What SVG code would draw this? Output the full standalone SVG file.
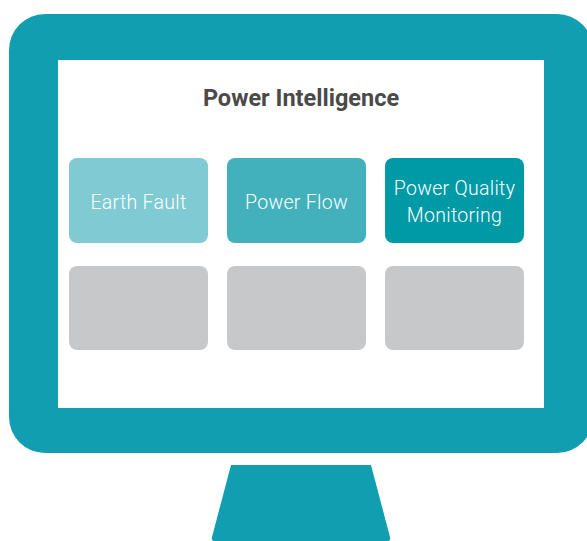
<svg xmlns="http://www.w3.org/2000/svg" width="587" height="541" viewBox="0 0 587 541">
<style>
.frame{fill:#119EB0}
.box{stroke:none}
.lbl{font-family:Roboto,"Liberation Sans",sans-serif;font-weight:300;font-size:19.5px;letter-spacing:0.3px;fill:#ffffff;text-anchor:middle}
.title{font-family:Roboto,"Liberation Sans",sans-serif;font-weight:700;font-size:23.5px;fill:#4a4a4a;text-anchor:middle}
</style>
<rect width="587" height="541" fill="#ffffff"/>
<g id="monitor">
<rect class="frame" x="9" y="14" width="584" height="439" rx="36" ry="36"/>
<rect x="58" y="60" width="486" height="348" fill="#ffffff"/>
<path class="frame" d="M231,465 L371,465 L390,537 Q391,541 387,541 L215,541 Q211,541 212,537 Z"/>
</g>
<text class="title" x="301" y="106">Power Intelligence</text>
<g id="earth-fault">
<rect class="box" x="69" y="158" width="139" height="85" rx="8" fill="#80CBD3"/>
<text class="lbl" x="138.5" y="209">Earth Fault</text>
</g>
<g id="power-flow">
<rect class="box" x="227" y="158" width="139" height="85" rx="8" fill="#42B1BC"/>
<text class="lbl" x="296.5" y="209">Power Flow</text>
</g>
<g id="power-quality">
<rect class="box" x="385" y="158" width="139" height="85" rx="8" fill="#0099A6"/>
<text class="lbl" x="454.5" y="195">Power Quality</text>
<text class="lbl" x="454.5" y="222">Monitoring</text>
</g>
<g id="empty-1"><rect class="box" x="69" y="266" width="139" height="84" rx="8" fill="#C7C8CA"/></g>
<g id="empty-2"><rect class="box" x="227" y="266" width="139" height="84" rx="8" fill="#C7C8CA"/></g>
<g id="empty-3"><rect class="box" x="385" y="266" width="139" height="84" rx="8" fill="#C7C8CA"/></g>
<g id="connectors"></g>
</svg>
